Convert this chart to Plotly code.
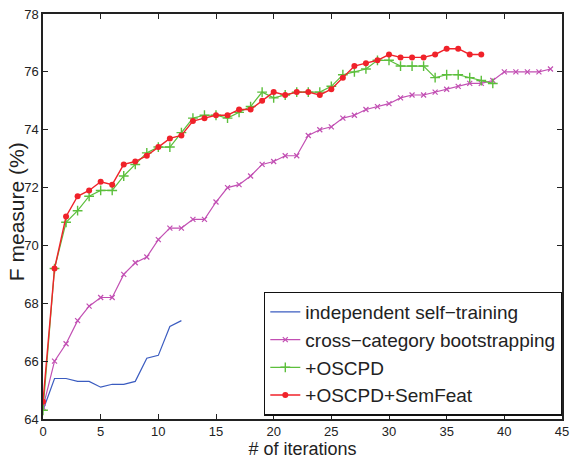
import plotly.graph_objects as go

iters_indep = list(range(0, 13))
f_indep = [64.3, 65.4, 65.4, 65.3, 65.3, 65.1, 65.2, 65.2, 65.3, 66.1, 66.2, 67.2, 67.4]

iters_cross = list(range(0, 45))
f_cross = [64.4, 66.0, 66.6, 67.4, 67.9, 68.2, 68.2, 69.0, 69.4, 69.6,
           70.2, 70.6, 70.6, 70.9, 70.9, 71.5, 72.0, 72.1, 72.4, 72.8,
           72.9, 73.1, 73.1, 73.8, 74.0, 74.1, 74.4, 74.5, 74.7, 74.8,
           74.9, 75.1, 75.2, 75.2, 75.3, 75.4, 75.5, 75.6, 75.6, 75.7,
           76.0, 76.0, 76.0, 76.0, 76.1]

iters_oscpd = list(range(0, 40))
f_oscpd = [64.3, 69.2, 70.8, 71.2, 71.7, 71.9, 71.9, 72.4, 72.8, 73.2,
           73.4, 73.4, 73.9, 74.4, 74.5, 74.5, 74.4, 74.6, 74.8, 75.3,
           75.1, 75.2, 75.3, 75.3, 75.3, 75.5, 75.9, 76.0, 76.1, 76.4,
           76.4, 76.2, 76.2, 76.2, 75.8, 75.9, 75.9, 75.8, 75.7, 75.6]

iters_sem = list(range(0, 39))
f_sem = [64.6, 69.2, 71.0, 71.7, 71.9, 72.2, 72.1, 72.8, 72.9, 73.1,
         73.4, 73.7, 73.8, 74.3, 74.4, 74.5, 74.5, 74.7, 74.7, 75.0,
         75.3, 75.2, 75.3, 75.3, 75.2, 75.4, 75.8, 76.2, 76.3, 76.4,
         76.6, 76.5, 76.5, 76.5, 76.6, 76.8, 76.8, 76.6, 76.6]

names = ["independent self−training", "cross−category bootstrapping",
         "+OSCPD", "+OSCPD+SemFeat"]

x_ticks = [0, 5, 10, 15, 20, 25, 30, 35, 40, 45]
y_ticks = [64, 66, 68, 70, 72, 74, 76, 78]

FONT = "Liberation Sans, Arial, sans-serif"

fig = go.Figure()
fig.add_trace(go.Scatter(x=iters_indep, y=f_indep, mode="lines", name=names[0],
                         line=dict(color="#3b5cc0", width=1.2)))
fig.add_trace(go.Scatter(x=iters_cross, y=f_cross, mode="lines+markers", name=names[1],
                         line=dict(color="#c24fb3", width=1.2),
                         marker=dict(symbol="x-thin", size=5, color="#c24fb3",
                                     line=dict(color="#c24fb3", width=1.2))))
fig.add_trace(go.Scatter(x=iters_oscpd, y=f_oscpd, mode="lines+markers", name=names[2],
                         line=dict(color="#5cbf3c", width=1.2),
                         marker=dict(symbol="cross-thin", size=7, color="#5cbf3c",
                                     line=dict(color="#5cbf3c", width=1.4))))
fig.add_trace(go.Scatter(x=iters_sem, y=f_sem, mode="lines+markers", name=names[3],
                         line=dict(color="#f0222a", width=1.4),
                         marker=dict(symbol="circle", size=6, color="#f0222a")))

axis_common = dict(showgrid=False, zeroline=False, showline=True, linecolor="#222",
                   linewidth=1.5, mirror="ticks", ticks="inside", ticklen=5,
                   tickcolor="#222", tickwidth=1,
                   tickfont=dict(family=FONT, size=13, color="#222"))

fig.update_xaxes(range=[0, 45], tickvals=x_ticks, **axis_common,
                 title=dict(text="# of iterations",
                            font=dict(family=FONT, size=18, color="#222"),
                            standoff=4))
fig.update_yaxes(range=[64, 78], tickvals=y_ticks, **axis_common)

fig.add_annotation(text="F measure (%)", xref="paper", yref="paper",
                   x=-0.051, y=0.512, xanchor="center", yanchor="middle",
                   textangle=-90, showarrow=False,
                   font=dict(family=FONT, size=21, color="#222"))

fig.update_layout(
    width=576, height=463,
    margin=dict(l=43, r=8, t=7, b=40),
    paper_bgcolor="white", plot_bgcolor="white",
    showlegend=True,
    legend=dict(x=1.0, y=0.008, xanchor="right", yanchor="bottom",
                bordercolor="#111", borderwidth=1.3, bgcolor="white",
                font=dict(family=FONT, size=19, color="#222"),
                tracegroupgap=0, itemwidth=30),
)

fig.write_html("out.html")
